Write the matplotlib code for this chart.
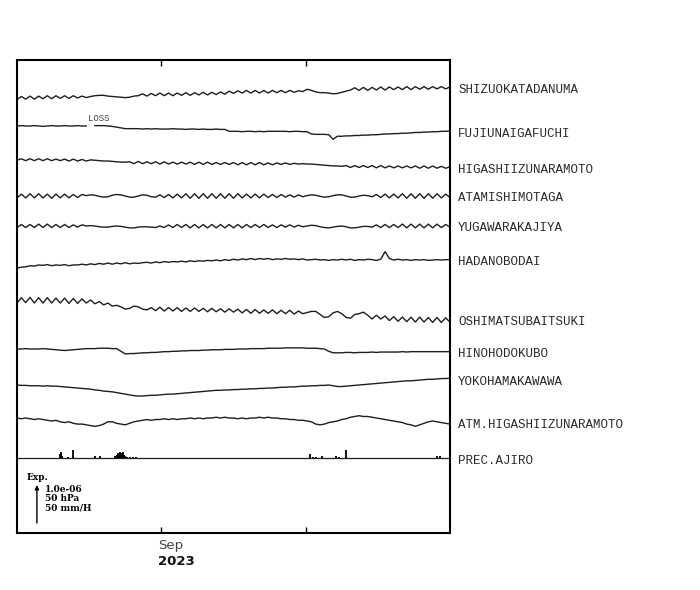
import numpy as np
import pandas as pd
import matplotlib
matplotlib.use("Agg")
import matplotlib.pyplot as plt
import matplotlib.transforms as mtransforms

# time axis: 30 days sampled every 7.2 hours
start = pd.Timestamp("2023-08-22")
end = pd.Timestamp("2023-09-21")
times = pd.date_range(start, periods=101, freq="432min")
tick_dates = pd.to_datetime(["2023-09-01", "2023-09-11"])

nan = np.nan

# strain in units of 1e-8
shizuoka = [-4, 4, -3, 5, -3, 5, -2, 6, -2, 6, -1, 6, -1, 6, 0, 5, 1,
            4, 6, 7, 7, 5, 4, 3, 2, 1, 2, 5,
            6, 11, 5, 12, 6, 13, 6, 13, 6, 13, 7, 14, 7, 14, 8, 15, 8, 15, 9, 16, 10,
            18, 12, 19, 13, 20, 13, 20, 13, 20, 13, 20, 14, 20, 14, 20, 15, 19, 17,
            23, 20, 16, 14, 14, 13, 11, 12, 15, 18,
            21, 27, 20, 28, 20, 28, 21, 29, 21, 29, 22, 29, 22, 30, 22, 30, 23, 30, 23, 30, 24, 30, 24, 29]
fujiunaigafuchi = [0, 1, 0, 0, 1, 0, -1, 0, 1, 0, 0, 1, 0, 0, 1, 0, 0,
                   nan,
                   1, 1, 1, 0, -1,
                   -3, -5, -7, -7,
                   -7, -7, -8, -7, -8, -7, -8, -8, -8, -7, -8, -8, -9, -8, -8, -9, -8, -9, -9, -8, -9, -9,
                   -14,
                   -14, -14, -15, -14, -14, -15, -14, -15, -14, -14, -14, -14, -14, -15, -14, -14, -15, -15,
                   -21, -22, -22, -22, -23,
                   -35, -27,
                   -27, -26, -26, -25, -25, -24, -24, -23, -23, -22, -21, -21, -20, -20, -19, -19, -18, -17, -17, -16, -16, -15, -15, -14, -14, -13]
higashiizu = [-2, 2, -3, 2, -3, 2, -3, 2, -3, 1, -3, 1, -4, 1, -4, 0, -4, -1,
              -2, -3, -4, -4, -5, -6, -7, -7,
              -6, -11, -5, -11, -6, -11, -6, -12, -6, -12, -7, -12, -7, -12, -7, -13, -7, -13, -7, -13, -8, -13, -8, -13,
              -8, -14, -8, -14, -8, -14, -8, -14, -9, -14, -9, -13, -9, -13, -10, -12, -11, -12, -12,
              -13, -14, -15, -16, -17, -17, -18,
              -16, -21, -16, -21, -16, -21, -16, -22, -16, -22, -17, -22, -17, -22, -17, -22, -17, -23, -17, -23, -17, -23, -18, -23, -19]
atamishimotaga = [-5, 5, -5, 6, -5, 6, -5, 5, -6, 5, -5, 5, -5, 4, -4, 4,
                  1, 3, 2, -1, -3, -2, 2, 4, 3, 0, -3, -3, 0, 3, 2, -2, -3, 3,
                  -4, 4, -5, 5, -5, 6, -6, 6, -6, 6, -6, 6, -6, 6, -6, 6, -6, 6, -5, 5, -5, 5, -5, 5, -4, 4, -4, 4, -3, 3, -3, 3, -2,
                  1, 3, 2, -1, -3, -2, 1, 3, 3, 0, -3, -3, 0, 2, 1, -2,
                  4, -4, 5, -5, 5, -5, 6, -6, 6, -6, 6, -6, 6, -6, 6, -5, 5, -4]
yugawarakajiya = [-4, 4, -4, 4, -4, 5, -4, 5, -4, 4, -4, 4, -4, 3, -3, 3,
                  0, 1, 0, -2, -3, -3, -1, 0, -1, -3, -5, -5, -3, -2, -2, -3, -4, 0,
                  -4, 3, -4, 4, -4, 4, -5, 4, -5, 4, -5, 4, -5, 4, -5, 4, -5, 4, -5, 4, -4, 4, -4, 4, -4, 3, -4, 3, -3, 3, -3, 2, -2,
                  0, 2, 1, -2, -4, -5, -3, -1, 0, -2, -5, -5, -3, -1, -1, -3,
                  3, -4, 4, -4, 4, -4, 5, -5, 5, -5, 5, -5, 5, -5, 5, -4, 4, -3]
hadanobodai = [0, 2, 3, 6, 5, 8,
               7, 9, 6, 8, 7, 9, 6, 8, 8,
               10, 8, 11, 9, 12, 10,
               13, 10, 13, 11, 14, 11, 13, 12, 14,
               15, 13, 16, 14, 17, 15, 17,
               16, 18, 16, 19, 17, 19, 18, 20, 19,
               21, 19, 22, 20, 23, 21,
               24, 22, 25, 22, 25, 23, 25, 22, 24, 23, 25, 23, 24, 22, 24, 21, 22,
               23, 21, 22, 20, 22, 21, 23, 21, 23, 20, 22, 21, 23, 22, 20,
               23, 43, 25, 21,
               23, 21, 22, 20, 22, 21, 22, 20, 21, 22, 21, 22, 22]
oshima = [-8, 6, -7, 7, -8, 6, -8, 6, -8, 5, -8, 5, -9, 4, -9,
          3, -8, 0, -10, -4, -13, -8, -16,
          -14, -18, -24, -22, -16, -18, -24, -26,
          -20, -28, -19, -29, -20, -29, -20, -30, -21, -30, -21, -30, -22, -31, -22, -31, -23, -32, -23, -32,
          -24, -34, -25, -35, -25, -35, -26, -35, -26, -36, -27, -36, -27, -37, -29, -36, -33,
          -30, -30, -38, -46, -44, -34, -30, -36, -46, -48, -38, -36, -32, -40, -50,
          -40, -50, -42, -54, -44, -56, -45, -57, -45, -58, -45, -58, -46, -59, -46, -59, -47, -58]
hinohodokubo = [0, 0, 1, 0, 0, 0, 1, 0, -1, -2,
                -3, -4, -3, -2, -1,
                0, 1, 1, 1, 2, 2, 2, 1, 1,
                -6, -13,
                -12, -12, -11, -10, -10, -9, -9, -8, -7, -7, -6, -6, -5, -5, -4, -4, -4, -3, -3,
                -2, -2, -2, -1, -1, -1, 0, 0, 0, 1, 1, 1, 1, 2, 2, 2, 2, 3, 3, 3, 3, 3, 2, 2, 2, 1, 0,
                -6, -10,
                -10, -10, -9, -9, -10, -9, -9, -9, -8, -9, -8, -8, -8, -8, -8, -7, -8, -7, -7, -7, -7, -7, -7, -7, -7, -7, -7]
yokohama = [0, -1, -1, -2, -2, -2, -3, -2, -3, -3, -4,
            -5, -6, -7, -8, -9, -10, -11, -13, -14, -16, -17, -18, -20, -22,
            -24, -26, -28, -29, -29, -28,
            -27, -27, -26, -25, -24, -24, -23, -22, -21, -20, -19, -18, -17, -16, -15,
            -14, -14, -13, -13, -12, -12, -11, -11, -10, -10, -9, -9, -8, -8, -7, -6, -6, -5, -5, -4, -3, -3, -2, -2, -1, -1, 0,
            -2, -4, -4, -3,
            -2, -1, 0, 1, 2, 3, 4, 5, 6, 7, 8, 9, 10, 11, 11, 12, 13, 14, 15, 15, 16, 17, 17, 18]
# pressure in hPa
atm_pressure = [0, -1, 0, -1, -2, -1, -2,
                -3, -4, -3, -5, -6, -5, -7, -8, -8, -9, -10, -11,
                -10, -8, -5, -5, -7, -8, -9,
                -7, -5, -4,
                -3, -2, -3, -2, -2, -1, -2, -1, -2, -1, -1, 0, -1, 0, -1, 0, 0, 1, 0, 1,
                0, 0, -1, 0, -1, 0, 0, 1, 0, 1, 0, 0, -1, -1, -2, -2, -3, -3, -4, -5,
                -8, -9, -8,
                -6, -5, -4, -2, -1, 1, 2, 3, 2,
                2, 1, 0, -1, -2, -3, -4, -5, -6, -8, -9, -11,
                -9, -7, -5, -4, -5, -6, -7, -8]
# hourly precipitation in mm/H (days after start)
prec_days = [2.98, 3.05, 3.12, 3.53, 3.88, 5.40, 5.75, 6.79, 6.93, 7.0, 7.07, 7.14, 7.2, 7.27,
             7.34, 7.41, 7.48, 7.62, 7.83, 8.04, 8.24, 20.3, 20.5, 20.7, 21.13, 22.1, 22.3,
             22.79, 29.1, 29.3]
prec_mm = [5, 8, 3, 1, 10.5, 2.5, 2, 2, 4, 6, 5, 8, 7, 5, 8, 4, 3, 1.5, 1, 1, 1, 5, 1.5, 1, 3,
           2, 1.5, 10.5, 2, 2.5]

names = ["SHIZUOKATADANUMA", "FUJIUNAIGAFUCHI", "HIGASHIIZUNARAMOTO", "ATAMISHIMOTAGA",
         "YUGAWARAKAJIYA", "HADANOBODAI", "OSHIMATSUBAITSUKI", "HINOHODOKUBO",
         "YOKOHAMAKAWAWA", "ATM.HIGASHIIZUNARAMOTO", "PREC.AJIRO"]
series = [shizuoka, fujiunaigafuchi, higashiizu, atamishimotaga, yugawarakajiya,
          hadanobodai, oshima, hinohodokubo, yokohama, atm_pressure]
# value of one scale bar for each trace
per_bar = [100] * 9 + [50]
prec_per_bar = 50

# layout (trace baselines in axis units, 1 unit = 1 pixel)
SCALE = 38
offsets = [435, 407, 373.5, 337, 307, 265, 233, 184, 148, 115]
prec_offset = 75
line_color = "#1e1e1e"
label_font = "Liberation Mono"

fig = plt.figure(figsize=(7, 5.9), dpi=100)
ax = fig.add_axes([17 / 700, 57 / 590, 433 / 700, 473 / 590])
ax.set_xlim(start, end)
ax.set_ylim(0, 473)

label_trans = mtransforms.blended_transform_factory(ax.transAxes, ax.transData)
label_ys = []
for vals, off, pb in zip(series, offsets, per_bar):
    y = off + np.array(vals, dtype=float) * SCALE / pb
    ax.plot(times, y, color=line_color, lw=1.0)
    # label sits at the level of the last part of the trace
    label_ys.append(np.nanmean(y[-8:]))

# precipitation bars
prec_times = start + pd.to_timedelta(prec_days, unit="D")
ax.axhline(prec_offset, color=line_color, lw=0.9)
ax.vlines(prec_times, prec_offset, prec_offset + np.array(prec_mm) * SCALE / prec_per_bar,
          color="black", lw=1.3)
label_ys.append(prec_offset)

for name, y in zip(names, label_ys):
    ax.annotate(name, xy=(1, y), xycoords=label_trans, xytext=(5.8, -1.8),
                textcoords="offset points", ha="left", va="center",
                fontsize=9, family=label_font, color="#2a2a2a")

# data loss marker
loss_idx = int(np.where(np.isnan(np.array(fujiunaigafuchi, dtype=float)))[0][0])
ax.annotate("LOSS", xy=(times[loss_idx], offsets[1]), xytext=(-2, 5.5),
            textcoords="offset points", ha="left", va="center",
            fontsize=6.5, family=label_font, color="#444444")

# scale bar
ax.annotate("", xy=(0.046, 10 + SCALE), xytext=(0.046, 10), xycoords=label_trans,
            arrowprops=dict(arrowstyle="-|>", color="black", lw=1.0,
                            mutation_scale=6, shrinkA=0, shrinkB=0))
ax.text(0.023, 55, "Exp.", transform=label_trans, fontsize=6.5, fontweight="bold",
        family="DejaVu Serif", va="center", ha="left")
scale_text = ["1.0e-06", "50 hPa", "50 mm/H"]
for k, s in enumerate(scale_text):
    ax.text(0.0647, 44 - 9.5 * k, s, transform=label_trans, fontsize=6.5,
            fontweight="bold", family="DejaVu Serif", va="center", ha="left")

for sp in ax.spines.values():
    sp.set_linewidth(1.5)
ax.set_yticks([])
ax.set_xticks(tick_dates)
ax.set_xticklabels([])
ax.tick_params(axis="x", direction="in", top=True, length=4, width=1.0)

date_trans = mtransforms.blended_transform_factory(ax.transData, ax.transAxes)
sep_x = tick_dates[0] - pd.Timedelta(hours=5)
ax.text(sep_x, -0.0254, "Sep", transform=date_trans, ha="left", va="center",
        fontsize=9.5, color="#444444")
ax.text(sep_x, -0.0607, "2023", transform=date_trans, ha="left", va="center",
        fontsize=9.5, fontweight="bold", color="#111111")

fig.savefig("out.png", dpi=100)
